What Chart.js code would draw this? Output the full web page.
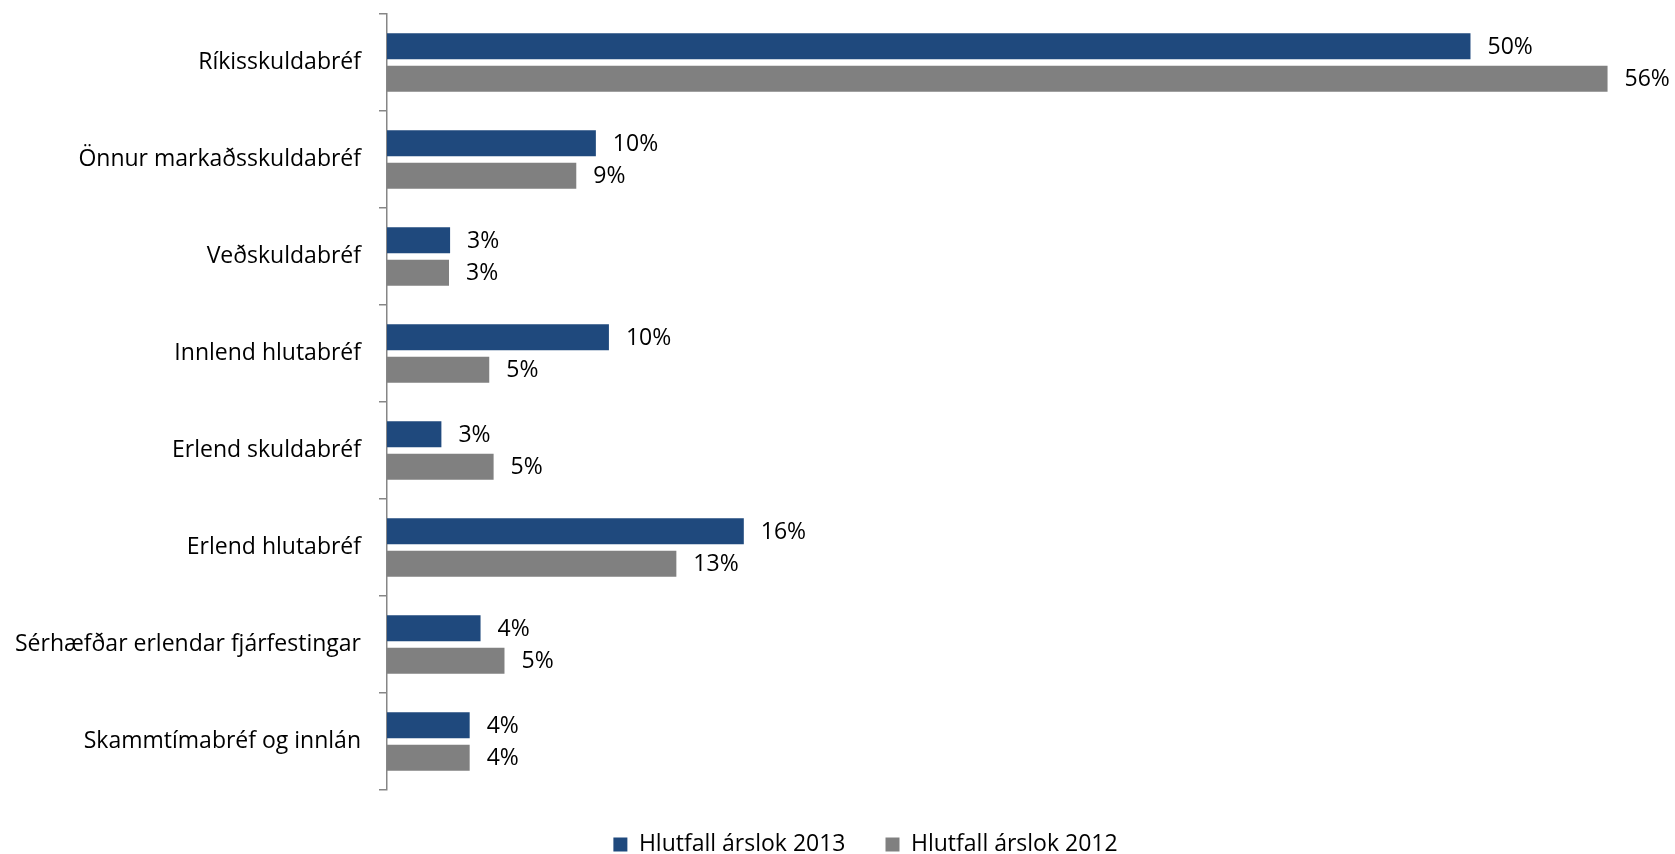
<!DOCTYPE html>
<html>
<head>
<meta charset="utf-8">
<script src="https://cdn.jsdelivr.net/npm/chart.js@4"></script>
<style>
  html, body { margin: 0; padding: 0; background: #fff; }
  #wrap { width: 1675px; height: 854px; }
</style>
</head>
<body>
<div id="wrap"><canvas id="chart"></canvas></div>
<script>
// categories and series (share of total, %)
const categories = [
  "Ríkisskuldabréf",
  "Önnur markaðsskuldabréf",
  "Veðskuldabréf",
  "Innlend hlutabréf",
  "Erlend skuldabréf",
  "Erlend hlutabréf",
  "Sérhæfðar erlendar fjárfestingar",
  "Skammtímabréf og innlán"
];
const share2013 = [49.8, 9.6, 2.9, 10.2, 2.5, 16.4, 4.3, 3.8];
const share2012 = [56.1, 8.7, 2.85, 4.7, 4.9, 13.3, 5.4, 3.8];
const seriesNames = ["Hlutfall árslok 2013", "Hlutfall árslok 2012"];

const FONT = "'Open Sans', sans-serif";

// draw the % value to the right of each bar
const valueLabels = {
  id: "valueLabels",
  afterDatasetsDraw(chart) {
    const ctx = chart.ctx;
    ctx.save();
    ctx.font = "23px " + FONT;
    ctx.fillStyle = "#000";
    ctx.textAlign = "left";
    ctx.textBaseline = "middle";
    chart.data.datasets.forEach((ds, i) => {
      const meta = chart.getDatasetMeta(i);
      meta.data.forEach((bar, j) => {
        ctx.fillText(Math.round(ds.data[j]) + "%", bar.x + 17, bar.y + 1);
      });
    });
    ctx.restore();
  }
};

// legend in the original sits a bit right of the page centre
const nudgeLegend = {
  id: "nudgeLegend",
  afterLayout(chart) {
    const lg = chart.legend;
    if (!lg) return;
    lg.left += 28;
    lg.right += 28;
    lg.top += 3;
    lg.bottom += 3;
  }
};

const ctx = document.getElementById("chart").getContext("2d");
new Chart(ctx, {
  type: "bar",
  data: {
    labels: categories,
    datasets: [
      {
        label: seriesNames[0],
        data: share2013,
        backgroundColor: "#1F497D",
        categoryPercentage: 0.67,
        barPercentage: 0.8
      },
      {
        label: seriesNames[1],
        data: share2012,
        backgroundColor: "#808080",
        categoryPercentage: 0.67,
        barPercentage: 0.8
      }
    ]
  },
  options: {
    indexAxis: "y",
    responsive: true,
    maintainAspectRatio: false,
    animation: false,
    layout: { padding: { top: 14, right: 0, bottom: 0, left: 0 } },
    scales: {
      x: { display: false, min: 0, max: 59.2 },
      y: {
        afterFit(scale) {
          scale.width = 387;
          // no extra room for the first / last label
          scale.paddingTop = 0;
          scale.paddingBottom = 0;
        },
        grid: {
          offset: true,
          drawOnChartArea: false,
          tickLength: 8,
          color: "#868686",
          lineWidth: 1.5
        },
        border: { color: "#868686", width: 1.5 },
        ticks: {
          color: "#000",
          padding: 18,
          font: { family: FONT, size: 23 }
        }
      }
    },
    plugins: {
      tooltip: { enabled: false },
      legend: {
        position: "bottom",
        maxHeight: 64,
        labels: {
          color: "#000",
          boxWidth: 14,
          boxHeight: 14,
          padding: 40,
          font: { family: FONT, size: 23 }
        }
      }
    }
  },
  plugins: [valueLabels, nudgeLegend]
});
</script>
</body>
</html>
